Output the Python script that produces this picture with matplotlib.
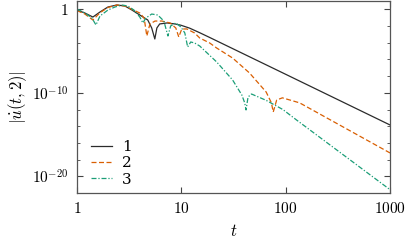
import numpy as np
import matplotlib
matplotlib.use("Agg")
import matplotlib.pyplot as plt
from matplotlib.ticker import FixedLocator, NullFormatter, FixedFormatter

plt.rcParams['mathtext.fontset'] = 'cm'
plt.rcParams['font.family'] = 'serif'
plt.rcParams['font.serif'] = ['DejaVu Serif']

# curve 1 (t, log10 |u'|)
t1 = [1.0, 1.19, 1.42, 1.66, 1.98, 2.41, 2.88, 3.36, 4.0, 4.77, 5.2, 5.57, 5.83,
      6.2, 7.3, 8.7, 9.9, 12.0, 15.0, 18.7, 100.0, 1000.0]
lv1 = [-0.08, -0.44, -0.92, -0.32, 0.28, 0.52, 0.40, -0.08, -0.68, -1.28, -2.23,
       -3.55, -2.23, -1.75, -1.63, -1.75, -1.90, -2.25, -2.80, -3.37, -7.78, -13.85]

# curve 2
t2 = [1.0, 1.19, 1.42, 1.66, 1.98, 2.41, 2.88, 3.36, 4.0, 4.4, 4.67, 5.0, 5.6,
      6.5, 7.8, 8.85, 9.45, 10.1, 11.3, 13.4, 15.0, 18.7, 21.8, 31.0, 45.0, 65.0,
      73.0, 76.0, 82.0, 93.0, 136.0, 1000.0]
lv2 = [-0.15, -0.56, -1.28, -0.40, 0.22, 0.52, 0.40, 0.0, -0.44, -1.04, -3.19,
       -1.75, -1.40, -1.40, -1.63, -2.23, -3.31, -2.35, -2.35, -2.83, -3.43, -4.03,
       -4.63, -5.83, -7.62, -9.9, -11.2, -12.3, -10.86, -10.6, -11.2, -17.2]

# curve 3
t3 = [1.0, 1.19, 1.39, 1.52, 1.66, 1.98, 2.31, 2.7, 3.07, 3.51, 4.0, 4.28, 4.57,
      5.2, 5.95, 6.8, 7.44, 7.9, 8.85, 9.9, 10.8, 11.5, 12.3, 13.4, 15.0, 21.8,
      31.0, 38.0, 40.5, 41.7, 43.6, 47.0, 65.0, 94.0, 127.0, 1000.0]
lv3 = [0.04, -0.44, -1.04, -1.87, -0.80, -0.08, 0.28, 0.52, 0.40, -0.08, -0.92,
       -1.63, -1.04, -0.56, -0.68, -1.40, -3.19, -1.99, -1.63, -2.11, -2.83, -4.51,
       -3.91, -4.03, -4.39, -6.3, -8.46, -10.26, -11.2, -12.05, -10.5, -10.14,
       -10.9, -12.0, -13.25, -21.6]

labels = ['1', '2', '3']
colors = ['#2b2b2b', '#d95f02', '#1b9e77']

fig = plt.figure(figsize=(4.07, 2.43), dpi=100)
ax = fig.add_axes([77/407, 1-193/243, (390-77)/407, (193-1)/243])

ax.plot(t1, 10.0**np.array(lv1), color=colors[0], lw=0.9, ls='-', label=labels[0])
ax.plot(t2, 10.0**np.array(lv2), color=colors[1], lw=0.9, ls=(0, (4, 2)), label=labels[1])
ax.plot(t3, 10.0**np.array(lv3), color=colors[2], lw=0.9, ls=(0, (4, 1.5, 1, 1.5)), label=labels[2])

ax.set_xscale('log')
ax.set_yscale('log')
ax.set_xlim(1, 1000)
ax.set_ylim(1e-22, 1e1)

ax.xaxis.set_major_locator(FixedLocator([1, 10, 100, 1000]))
ax.xaxis.set_major_formatter(FixedFormatter([r'$1$', r'$10$', r'$100$', r'$1000$']))
ax.xaxis.set_minor_locator(FixedLocator([]))
ax.yaxis.set_major_locator(FixedLocator([1e-20, 1e-10, 1]))
ax.yaxis.set_major_formatter(FixedFormatter([r'$10^{-20}$', r'$10^{-10}$', r'$1$']))
ax.yaxis.set_minor_locator(FixedLocator([10.0**(-k) for k in range(2, 23, 2) if k not in (10, 20)]))
ax.yaxis.set_minor_formatter(NullFormatter())

ax.tick_params(which='both', direction='in', top=True, right=True, labelsize=11,
               color='#444444', pad=6)
ax.tick_params(which='major', length=4, width=0.8)
ax.tick_params(which='minor', length=2.5, width=0.6)
for s in ax.spines.values():
    s.set_color('#555555')
    s.set_linewidth(0.9)

ax.set_xlabel(r'$t$', fontsize=12, labelpad=5)
ax.set_ylabel(r'$|\dot{u}(t,2)|$', fontsize=12, labelpad=2)

leg = ax.legend(loc='upper left', bbox_to_anchor=(0.045, 0.275), frameon=False,
                fontsize=11, handlelength=1.4, handletextpad=0.6, labelspacing=0.15,
                borderpad=0, borderaxespad=0)

fig.savefig('out.png', dpi=100)
